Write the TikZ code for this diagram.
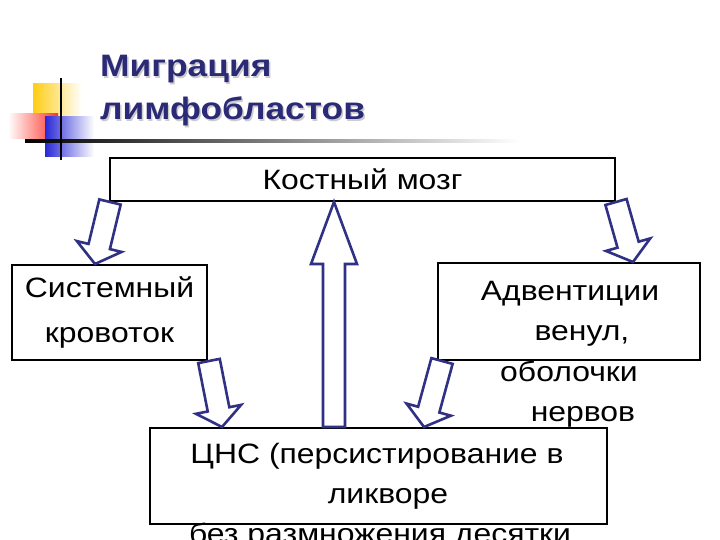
\documentclass[tikz,border=0pt]{standalone}
\usepackage{fontspec}
\setmainfont[FakeStretch=1.14]{Liberation Sans}
\usetikzlibrary{calc}
\definecolor{titlenavy}{RGB}{42,42,118}
\definecolor{arrownavy}{RGB}{48,48,132}
\definecolor{decoyellow}{RGB}{255,205,20}
\definecolor{decored}{RGB}{255,50,40}
\definecolor{decoblue}{RGB}{40,40,215}

\begin{document}
\begin{tikzpicture}[x=1pt, y=-1pt, every node/.style={font=\fontsize{28}{42}\selectfont}, box/.style 2 args={draw, line width=2pt, fill=white, minimum width=#1, minimum height=#2, inner sep=0pt, align=center}, barrow/.style={draw=arrownavy, line width=2.6pt, fill=white, line join=miter}, ln/.style={anchor=base, inner sep=0pt}, ttl/.style={anchor=base west, inner sep=0pt, font=\fontsize{31}{44}\selectfont\bfseries, text=titlenavy}]
	\clip (0,0) rectangle (720,540);
	\shade[left color=decoyellow, right color=white] (33,84) rectangle (82,118);
	\shade[left color=white, right color=decored] (8,114) rectangle (58,139);
	\shade[left color=decoblue, right color=white] (45,117) rectangle (94,157);
	\shade[left color=black, right color=white] (25,139.5) rectangle (520,142.5);
	\draw[line width=2pt] (61,78) -- (61,160);
	\foreach \t/\y [count=\i] in {Миграция/77, лимфобластов/120} {\node[ttl, text=gray!40] (sh\i) at (101.5,\y+1.5) {\t}; \node[ttl] (ttl\i) at (100,\y) {\t};}
	\node[box={505pt}{43pt}] (bm) at (362.5,179.5) {Костный мозг};
	\node[box={195pt}{95pt}, font=\fontsize{28}{45}\selectfont] (sk) at (109.5,312.5) {Системный\\кровоток};
	\node[box={262pt}{97pt}] (ad) at (569,311.5) {};
	\node[box={457pt}{96pt}] (cns) at (378.5,476) {};
	\foreach \t/\x/\y [count=\i] in {Адвентиции/570/300, {венул,}/582/340, оболочки/569/381, нервов/583/421} \node[ln] (ad\i) at (\x,\y) {\t};
	\foreach \t/\x/\y [count=\i] in {ЦНС (персистирование в/377/463, ликворе/388/503, без размножения десятки/380/543} \node[ln] (cns\i) at (\x,\y) {\t};
	\coordinate (t1) at ([xshift=1pt]bm.south west);
	\coordinate (h1) at ([xshift=-14.5pt]sk.north);
	\coordinate (t2) at (bm.south east);
	\coordinate (h2) at ([xshift=64pt]ad.north);
	\coordinate (t3) at ([xshift=-44.5pt]cns.north);
	\coordinate (h3) at (t3 |- bm.south);
	\coordinate (t4) at ([xshift=1pt]sk.south east);
	\coordinate (h4) at ([xshift=73pt]cns.north west);
	\coordinate (t5) at ([xshift=5pt]ad.south west);
	\coordinate (h5) at ([xshift=275pt]cns.north west);
	\foreach \a/\b/\l in {t1/h1/18, t2/h2/18, t3/h3/62, t4/h4/18, t5/h5/18} {\coordinate (hb) at ($(\b)!\l pt!(\a)$);
		\draw[barrow] ($(\a)!11pt!90:(\b)$) -- ($(hb)!11pt!90:(\b)$) -- ($(hb)!23pt!90:(\b)$) -- (\b) -- ($(hb)!23pt!-90:(\b)$) -- ($(hb)!11pt!-90:(\b)$) -- ($(\a)!11pt!-90:(\b)$) -- cycle;}
\end{tikzpicture}
\end{document}
